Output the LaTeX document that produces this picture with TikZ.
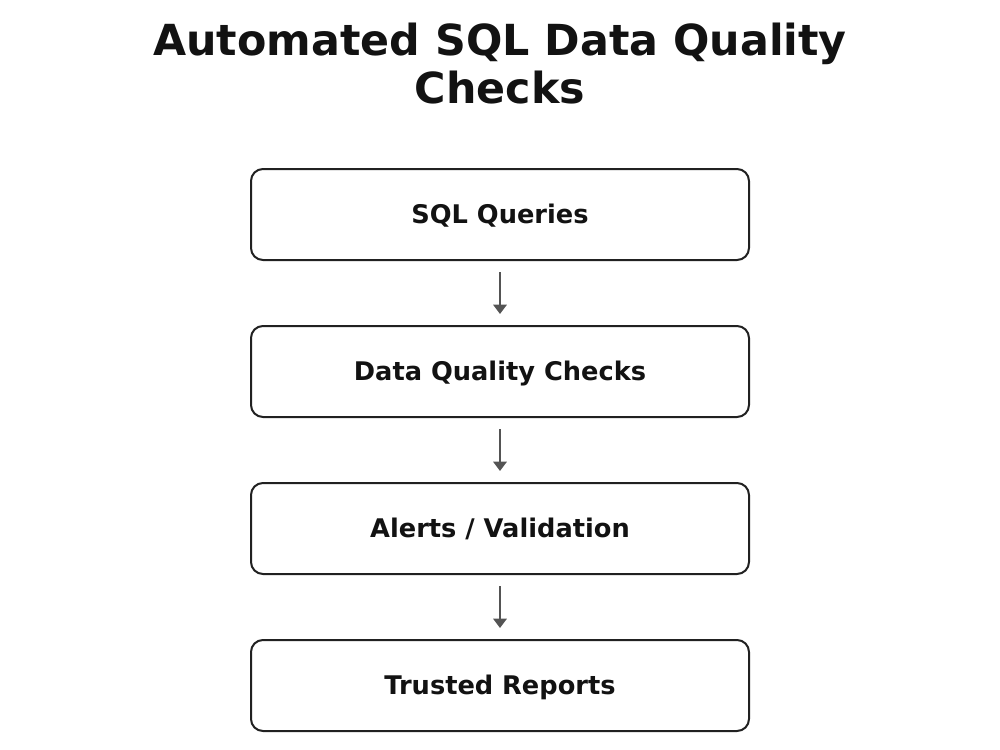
\documentclass[tikz,border=0pt]{standalone}
\usepackage{fontspec}
\setmainfont{DejaVu Sans}
\usetikzlibrary{arrows.meta}
\begin{document}
\begin{tikzpicture}[x=0.75pt,y=-0.75pt,
  stepbox/.style={draw=black!87, line width=1.5pt, rounded corners=9pt, fill=white,
    minimum width=498*0.75pt, minimum height=91*0.75pt, inner sep=0pt,
    text height=14pt, text depth=0pt,
    font=\bfseries\fontsize{19.25}{22}\selectfont, text=black!93},
  flow/.style={draw=black!67, line width=1.8pt, -{Triangle[length=7pt,width=10pt]},
    shorten <=8.25pt, shorten >=8.25pt},
  title/.style={font=\bfseries\fontsize{32.1}{36}\selectfont, align=center, text=black!93}]
\useasboundingbox (0,0) rectangle (1000,750);
\node[title] (t) at (500,64) {Automated SQL Data Quality\\Checks};
\node[stepbox] (a) at (500,214.5) {SQL Queries};
\node[stepbox] (b) at (500,371.5) {Data Quality Checks};
\node[stepbox] (c) at (500,528.5) {Alerts / Validation};
\node[stepbox] (d) at (500,685.5) {Trusted Reports};
\draw[flow] (a) -- (b);
\draw[flow] (b) -- (c);
\draw[flow] (c) -- (d);
\end{tikzpicture}
\end{document}
